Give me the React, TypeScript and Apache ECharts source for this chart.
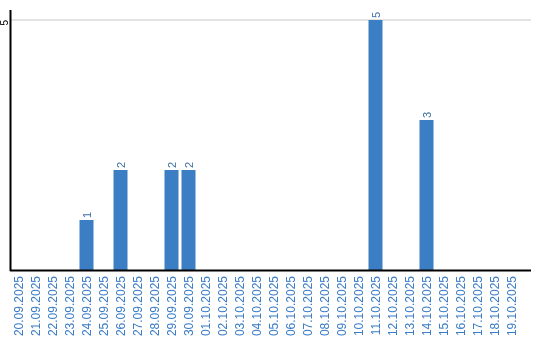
import React, { useEffect, useRef } from "react";
import * as echarts from "echarts";

const categories = [
  "20.09.2025", "21.09.2025", "22.09.2025", "23.09.2025", "24.09.2025",
  "25.09.2025", "26.09.2025", "27.09.2025", "28.09.2025", "29.09.2025",
  "30.09.2025", "01.10.2025", "02.10.2025", "03.10.2025", "04.10.2025",
  "05.10.2025", "06.10.2025", "07.10.2025", "08.10.2025", "09.10.2025",
  "10.10.2025", "11.10.2025", "12.10.2025", "13.10.2025", "14.10.2025",
  "15.10.2025", "16.10.2025", "17.10.2025", "18.10.2025", "19.10.2025",
];

const counts = [
  0, 0, 0, 0, 1, 0, 2, 0, 0, 2,
  2, 0, 0, 0, 0, 0, 0, 0, 0, 0,
  0, 5, 0, 0, 3, 0, 0, 0, 0, 0,
];

const yTicks = [5];

export default function App() {
  const ref = useRef<HTMLDivElement>(null);
  useEffect(() => {
    if (!ref.current) return;
    const chart = echarts.init(ref.current, null, { renderer: "svg" });
    chart.setOption({
      animation: false,
      grid: {
        left: 10,
        top: 20,
        width: 510,
        bottom: 70,
        containLabel: false,
        outerBoundsMode: "none",
      },
      xAxis: {
        type: "category",
        data: categories,
        axisLine: { show: false },
        axisTick: { show: false },
        axisLabel: {
          rotate: 90,
          interval: 0,
          margin: 6,
          color: "#3a7cc6",
          fontSize: 12,
          fontFamily: "Liberation Sans",
        },
      },
      yAxis: {
        type: "value",
        min: 0,
        max: 5,
        interval: 5,
        axisLine: { show: false },
        axisTick: { show: false },
        splitLine: { show: false },
        axisLabel: {
          rotate: 90,
          margin: 2,
          align: "right",
          verticalAlign: "bottom",
          lineHeight: 8,
          color: "#000",
          fontSize: 10,
          fontFamily: "Liberation Sans",
          formatter: (v: number) => (yTicks.includes(v) ? String(v) : ""),
        },
      },
      graphic: [
        { type: "line", shape: { x1: 11, y1: 20, x2: 531, y2: 20 }, style: { stroke: "#c8c8c8", lineWidth: 1 }, z: 0 },
        { type: "line", shape: { x1: 10.5, y1: 10, x2: 10.5, y2: 271 }, style: { stroke: "#000", lineWidth: 2 }, z: 10 },
        { type: "line", shape: { x1: 10, y1: 270.5, x2: 531, y2: 270.5 }, style: { stroke: "#000", lineWidth: 2 }, z: 10 },
      ],
      series: [
        {
          type: "bar",
          data: counts,
          barWidth: 14,
          itemStyle: { color: "#3b7ec4" },
          label: {
            show: true,
            position: "top",
            rotate: 90,
            align: "left",
            verticalAlign: "middle",
            distance: 2,
            color: "#3e6f9f",
            fontSize: 11,
            fontFamily: "Liberation Sans",
            formatter: (p: any) => (p.value ? String(p.value) : ""),
          },
        },
      ],
    });
    return () => chart.dispose();
  }, []);
  return (
    <div
      ref={ref}
      style={{ position: "fixed", left: 0, top: 0, width: 540, height: 340 }}
    />
  );
}
